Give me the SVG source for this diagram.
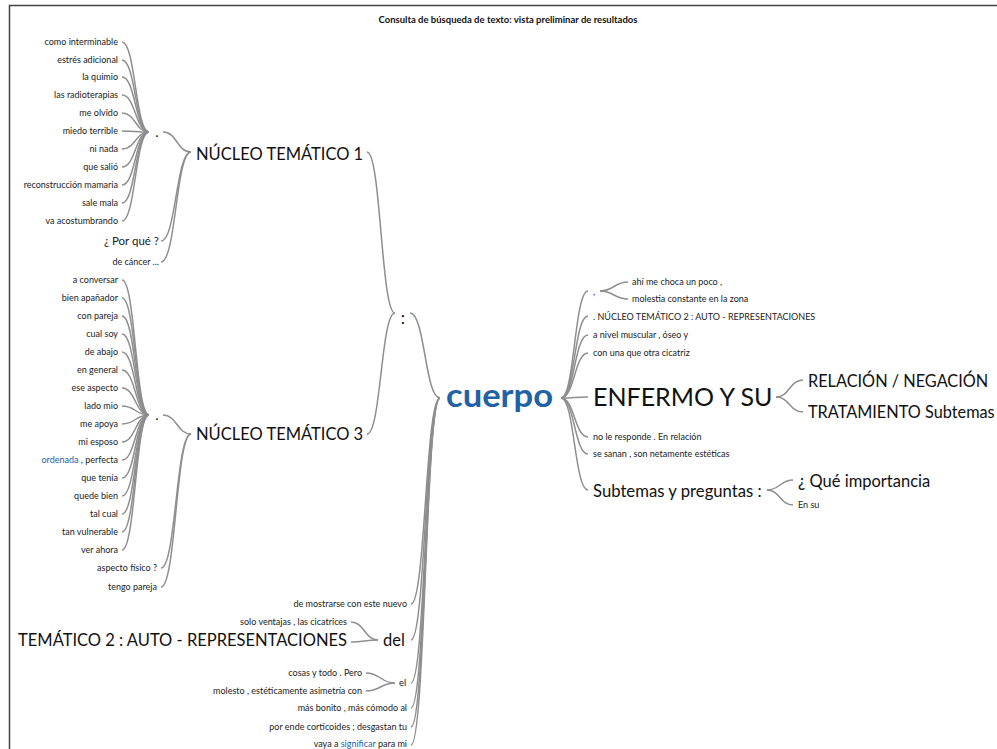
<svg xmlns="http://www.w3.org/2000/svg" width="997" height="749" viewBox="0 0 997 749">
<style>
text{font-family:Lato,"Liberation Sans",sans-serif;fill:#222}
.s{font-size:9px}
.e{text-anchor:end}
.c{text-anchor:middle}
.m{font-size:11.5px}
.h{font-size:16.5px;fill:#111}
.r{font-size:16.3px;fill:#111}
.k{fill:#1f62a6}
.lk{fill:none;stroke:#8e8e8e;stroke-width:1.5}
.title{font-size:9.5px;font-weight:bold;text-anchor:middle;fill:#111}
</style>
<rect width="997" height="749" fill="#fff"/>
<path d="M9.5 749V5.5H997" fill="none" stroke="#444" stroke-width="1.5"/>
<text class="title" x="508" y="23">Consulta de búsqueda de texto: vista preliminar de resultados</text>

<!-- word tree links: horizontal cubic curves from child edge to parent edge -->
<g id="links" class="lk">
  <path d="M122 42C135.5 42 135.5 132 149 132"/>
  <path d="M122 60C135.5 60 135.5 132 149 132"/>
  <path d="M122 77C135.5 77 135.5 132 149 132"/>
  <path d="M122 95C135.5 95 135.5 132 149 132"/>
  <path d="M122 113C135.5 113 135.5 132 149 132"/>
  <path d="M122 131C135.5 131 135.5 132 149 132"/>
  <path d="M122 149C135.5 149 135.5 132 149 132"/>
  <path d="M122 167C135.5 167 135.5 132 149 132"/>
  <path d="M122 185C135.5 185 135.5 132 149 132"/>
  <path d="M122 203C135.5 203 135.5 132 149 132"/>
  <path d="M122 221C135.5 221 135.5 132 149 132"/>
  <path d="M163 132C177 132 177 152 191 152"/>
  <path d="M161 241C176 241 176 152 191 152"/>
  <path d="M161 262C176 262 176 152 191 152"/>
  <path d="M367 152C381 152 381 313 395 313"/>
  <path d="M367 434C381 434 381 313 395 313"/>
  <path d="M410 313C425 313 425 398 440 398"/>

  <path d="M122 280C135.5 280 135.5 415 149 415"/>
  <path d="M122 298C135.5 298 135.5 415 149 415"/>
  <path d="M122 316C135.5 316 135.5 415 149 415"/>
  <path d="M122 334C135.5 334 135.5 415 149 415"/>
  <path d="M122 352C135.5 352 135.5 415 149 415"/>
  <path d="M122 370C135.5 370 135.5 415 149 415"/>
  <path d="M122 388C135.5 388 135.5 415 149 415"/>
  <path d="M122 406C135.5 406 135.5 415 149 415"/>
  <path d="M122 424C135.5 424 135.5 415 149 415"/>
  <path d="M122 442C135.5 442 135.5 415 149 415"/>
  <path d="M122 460C135.5 460 135.5 415 149 415"/>
  <path d="M122 478C135.5 478 135.5 415 149 415"/>
  <path d="M122 496C135.5 496 135.5 415 149 415"/>
  <path d="M122 514C135.5 514 135.5 415 149 415"/>
  <path d="M122 532C135.5 532 135.5 415 149 415"/>
  <path d="M122 550C135.5 550 135.5 415 149 415"/>
  <path d="M163 415C177 415 177 434 191 434"/>
  <path d="M161 568C176 568 176 434 191 434"/>
  <path d="M161 587C176 587 176 434 191 434"/>

  <path d="M411 604C425.5 604 425.5 398 440 398"/>
  <path d="M411 640C425.5 640 425.5 398 440 398"/>
  <path d="M411 683C425.5 683 425.5 398 440 398"/>
  <path d="M411 708C425.5 708 425.5 398 440 398"/>
  <path d="M411 727C425.5 727 425.5 398 440 398"/>
  <path d="M411 745C425.5 745 425.5 398 440 398"/>
  <path d="M351 622C364.5 622 364.5 640 378 640"/>
  <path d="M351 642C364.5 642 364.5 640 378 640"/>
  <path d="M366 673C380.5 673 380.5 683 395 683"/>
  <path d="M366 691C380.5 691 380.5 683 395 683"/>

  <path d="M561 398C574.5 398 574.5 291 588 291"/>
  <path d="M561 398C574.5 398 574.5 316 588 316"/>
  <path d="M561 398C574.5 398 574.5 335 588 335"/>
  <path d="M561 398C574.5 398 574.5 353 588 353"/>
  <path d="M561 398C574.5 398 574.5 397 588 397"/>
  <path d="M561 398C574.5 398 574.5 437 588 437"/>
  <path d="M561 398C574.5 398 574.5 454 588 454"/>
  <path d="M561 398C574.5 398 574.5 490 588 490"/>
  <path d="M600 291C614 291 614 282 628 282"/>
  <path d="M600 291C614 291 614 299 628 299"/>
  <path d="M776 397C789.5 397 789.5 380 803 380"/>
  <path d="M776 397C789.5 397 789.5 412 803 412"/>
  <path d="M767 490C780 490 780 480 793 480"/>
  <path d="M767 490C780 490 780 505 793 505"/>
</g>

<!-- root -->
<g id="n-cuerpo"><text x="446" y="407" style="font-size:32px;font-weight:bold" class="k" textLength="107" lengthAdjust="spacingAndGlyphs">cuerpo</text></g>
<g id="n-colon"><text x="403" y="324" class="c" style="font-size:17px;fill:#111">:</text></g>

<!-- branch: NÚCLEO TEMÁTICO 1 -->
<g id="n-nt1"><text x="196" y="160" class="h">NÚCLEO TEMÁTICO 1</text></g>
<g id="n-dot1"><text x="157" y="137" class="c" style="font-size:14px;fill:#111">.</text></g>
<g id="n-porque"><text x="159" y="245" class="e m">¿ Por qué ?</text></g>
<g id="n-decancer"><text x="159" y="265" class="e s">de cáncer ...</text></g>
<g id="leaves-dot1">
  <text x="118" y="45" class="e s">como interminable</text>
  <text x="118" y="63" class="e s">estrés adicional</text>
  <text x="118" y="80" class="e s">la quimio</text>
  <text x="118" y="98" class="e s">las radioterapias</text>
  <text x="118" y="116" class="e s">me olvido</text>
  <text x="118" y="134" class="e s">miedo terrible</text>
  <text x="118" y="152" class="e s">ni nada</text>
  <text x="118" y="170" class="e s">que salió</text>
  <text x="118" y="188" class="e s">reconstrucción mamaria</text>
  <text x="118" y="206" class="e s">sale mala</text>
  <text x="118" y="224" class="e s">va acostumbrando</text>
</g>

<!-- branch: NÚCLEO TEMÁTICO 3 -->
<g id="n-nt3"><text x="196" y="440" class="h">NÚCLEO TEMÁTICO 3</text></g>
<g id="n-dot3"><text x="157" y="420" class="c" style="font-size:14px;fill:#111">.</text></g>
<g id="n-aspecto"><text x="157" y="571" class="e s">aspecto físico ?</text></g>
<g id="n-tengo"><text x="157" y="590" class="e s">tengo pareja</text></g>
<g id="leaves-dot3">
  <text x="118" y="283" class="e s">a conversar</text>
  <text x="118" y="301" class="e s">bien apañador</text>
  <text x="118" y="319" class="e s">con pareja</text>
  <text x="118" y="337" class="e s">cual soy</text>
  <text x="118" y="355" class="e s">de abajo</text>
  <text x="118" y="373" class="e s">en general</text>
  <text x="118" y="391" class="e s">ese aspecto</text>
  <text x="118" y="409" class="e s">lado mio</text>
  <text x="118" y="427" class="e s">me apoya</text>
  <text x="118" y="445" class="e s">mi esposo</text>
  <text x="118" y="463" class="e s"><tspan class="k">ordenada</tspan> , perfecta</text>
  <text x="118" y="481" class="e s">que tenía</text>
  <text x="118" y="499" class="e s">quede bien</text>
  <text x="118" y="517" class="e s">tal cual</text>
  <text x="118" y="535" class="e s">tan vulnerable</text>
  <text x="118" y="553" class="e s">ver ahora</text>
</g>

<!-- lower left branches -->
<g id="n-mostrarse"><text x="407" y="607" class="e s">de mostrarse con este nuevo</text></g>
<g id="n-del"><text x="383" y="646" class="h">del</text></g>
<g id="n-ventajas"><text x="347" y="625" class="e s">solo ventajas , las cicatrices</text></g>
<g id="n-tematico2"><text x="347" y="646" class="e h">TEMÁTICO 2 : AUTO - REPRESENTACIONES</text></g>
<g id="n-el"><text x="399" y="686" style="font-size:9.5px">el</text></g>
<g id="n-cosas"><text x="362" y="676" class="e s">cosas y todo . Pero</text></g>
<g id="n-molesto"><text x="362" y="694" class="e s">molesto , estéticamente asimetría con</text></g>
<g id="n-bonito"><text x="407" y="711" class="e s">más bonito , más cómodo al</text></g>
<g id="n-corticoides"><text x="407" y="730" class="e s">por ende corticoides ; desgastan tu</text></g>
<g id="n-vaya"><text x="407" y="747" class="e s">vaya a <tspan class="k">significar</tspan> para mi</text></g>

<!-- right branches -->
<g id="n-comma"><text x="593" y="295" style="font-size:9px">,</text></g>
<g id="n-choca"><text x="632" y="285" class="s">ahí me choca un poco ,</text></g>
<g id="n-molestia"><text x="632" y="302" class="s">molestia constante en la zona</text></g>
<g id="n-nt2"><text x="593" y="320" class="s">. NÚCLEO TEMÁTICO 2 : AUTO - REPRESENTACIONES</text></g>
<g id="n-nivel"><text x="593" y="338" class="s">a nivel muscular , óseo y</text></g>
<g id="n-cicatriz"><text x="593" y="356" class="s">con una que otra cicatriz</text></g>
<g id="n-enfermo"><text x="593" y="406" style="font-size:25px;fill:#111">ENFERMO Y SU</text></g>
<g id="n-relacion"><text x="808" y="387" class="r">RELACIÓN / NEGACIÓN</text></g>
<g id="n-tratamiento"><text x="808" y="418" class="r">TRATAMIENTO Subtemas</text></g>
<g id="n-responde"><text x="593" y="440" class="s">no le responde . En relación</text></g>
<g id="n-sanan"><text x="593" y="457" class="s">se sanan , son netamente estéticas</text></g>
<g id="n-subtemas"><text x="593" y="497" style="font-size:16.7px;fill:#111">Subtemas y preguntas :</text></g>
<g id="n-importancia"><text x="798" y="487" style="font-size:16.5px;fill:#111">¿ Qué importancia</text></g>
<g id="n-ensu"><text x="798" y="508" class="s">En su</text></g>
</svg>
